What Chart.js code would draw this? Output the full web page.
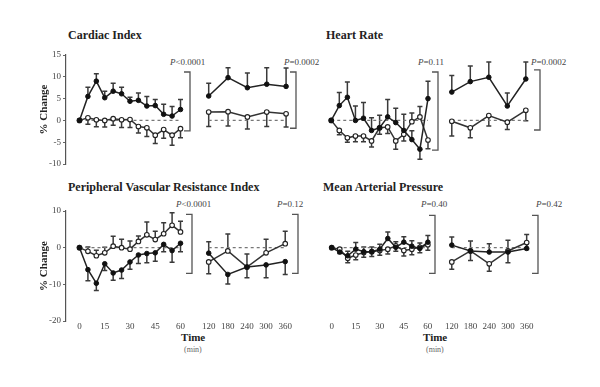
<!DOCTYPE html>
<html>
<head>
<meta charset="utf-8">
<script src="https://cdn.jsdelivr.net/npm/chart.js@4.4.0/dist/chart.umd.min.js"></script>
<style>
html,body{margin:0;padding:0;background:#fff;}
#wrap{position:relative;width:600px;height:387px;overflow:hidden;background:#fff;font-family:"Liberation Serif","Times New Roman",serif;}
#wrap canvas{position:absolute;}
.t{position:absolute;white-space:nowrap;color:#222;}
.title{font-weight:bold;font-size:12px;line-height:12px;}
.p{font-size:9px;line-height:9px;color:#444;}
.p i{font-style:italic;}
.time{font-weight:bold;font-size:11px;line-height:11px;color:#222;}
.min{font-size:8px;line-height:8px;color:#666;}
</style>
</head>
<body>
<div id="wrap">
  <div class="t title" style="left:68px;top:29px;">Cardiac Index</div>
  <div class="t title" style="left:326px;top:29px;">Heart Rate</div>
  <div class="t title" style="left:68px;top:181px;">Peripheral Vascular Resistance Index</div>
  <div class="t title" style="left:323px;top:181px;">Mean Arterial Pressure</div>

  <div class="t p" style="left:170px;top:58px;"><i>P</i>&lt;0.0001</div>
  <div class="t p" style="left:284px;top:58px;"><i>P</i>=0.0002</div>
  <div class="t p" style="left:418px;top:58px;"><i>P</i>=0.11</div>
  <div class="t p" style="left:531px;top:58px;"><i>P</i>=0.0002</div>
  <div class="t p" style="left:176px;top:200px;"><i>P</i>&lt;0.0001</div>
  <div class="t p" style="left:277px;top:200px;"><i>P</i>=0.12</div>
  <div class="t p" style="left:421px;top:200px;"><i>P</i>=0.40</div>
  <div class="t p" style="left:536px;top:200px;"><i>P</i>=0.42</div>

  <div class="t time" style="left:181px;top:332px;">Time</div>
  <div class="t min" style="left:184px;top:346px;">(min)</div>
  <div class="t time" style="left:423px;top:332px;">Time</div>
  <div class="t min" style="left:426px;top:346px;">(min)</div>
</div>
<script>
// ---------- DATA ----------
const times1 = [0, 5, 10, 15, 20, 25, 30, 35, 40, 45, 50, 55, 60];
const times2 = [120, 180, 240, 300, 360];
const xTickLabels1 = [0, 15, 30, 45, 60];
const xTickLabels2 = [120, 180, 240, 300, 360];
const yTicksTop = [-10, -5, 0, 5, 10, 15];
const yTicksBottom = [-20, -10, 0, 10];

// Cardiac Index (% change)
const ciFilled1    = [0, 5.5, 9.0, 5.2, 6.7, 6.1, 4.4, 4.6, 3.3, 3.4, 1.4, 1.0, 2.5];
const ciFilledErr1 = [0, 2.1, 1.7, 1.5, 1.8, 1.5, 0.9, 1.7, 2.2, 1.4, 2.3, 2.2, 2.3];
const ciOpen1      = [0, 0.6, 0.15, 0, 0.4, 0.15, 0.2, -1.4, -1.7, -3.4, -2.1, -3.4, -1.9];
const ciOpenErr1   = [0, -1.5, -1.6, -1.5, -1.5, -1.8, -1.8, -1.5, -2.0, -1.9, -2.0, -2.3, -2.1];
const ciFilled2    = [5.6, 9.8, 7.5, 8.3, 7.8];
const ciFilledErr2 = [2.9, 2.3, 3.4, 3.8, 4.2];
const ciOpen2      = [1.9, 2.0, 0.8, 1.9, 1.5];
const ciOpenErr2   = [-3.3, -3.3, -2.8, -3.3, -3.0];

// Heart Rate (% change)
const hrFilled1    = [0, 3.4, 5.3, 0, 0.5, -2.3, -1.7, 0.8, -0.5, -2.3, -4.4, -6.6, 5.0];
const hrFilledErr1 = [0, 3.0, 3.5, 3.3, 3.6, 2.9, 2.9, 4.0, 3.3, 3.7, 2.0, -2.3, 4.0];
const hrOpen1      = [0, -2.3, -4.0, -3.6, -3.6, -4.7, -1.7, -1.5, -4.7, -3.2, -0.3, 0.8, -4.5];
const hrOpenErr1   = [0, -1.0, -1.0, -1.3, -1.3, -1.4, -1.5, -1.5, -1.9, -1.5, 2.0, 2.4, -2.0];
const hrFilled2    = [6.5, 8.9, 9.9, 3.3, 9.5];
const hrFilledErr2 = [3.8, 3.6, 3.5, 3.0, 3.9];
const hrOpen2      = [-0.2, -1.7, 1.1, -0.4, 2.3];
const hrOpenErr2   = [-3.4, -2.3, -2.4, -1.7, -2.4];

// Peripheral Vascular Resistance Index (% change)
const pvrFilled1    = [0, -6.0, -9.7, -4.4, -6.9, -6.1, -3.9, -2.0, -1.6, -1.4, 0.9, -0.8, 1.2];
const pvrFilledErr1 = [0, -3.0, -2.0, -1.8, -2.0, -2.3, -2.0, -2.3, -2.5, -2.3, -2.0, -3.2, -2.3];
const pvrOpen1      = [0, -1.0, -2.2, -1.4, 0.4, 0, -0.4, 1.7, 3.5, 2.2, 3.8, 6.1, 4.3];
const pvrOpenErr1   = [0, 1.2, 1.5, 1.5, 2.7, 2.3, 2.2, 1.5, 3.5, 2.3, 3.0, 3.4, 2.9];
const pvrFilled2    = [-1.5, -7.3, -5.3, -4.7, -3.8];
const pvrFilledErr2 = [3.1, -2.6, -2.9, -3.5, -3.5];
const pvrOpen2      = [-3.9, -0.9, -5.3, -1.4, 1.1];
const pvrOpenErr2   = [-3.2, 4.6, 3.6, 3.7, 3.4];

// Mean Arterial Pressure (% change)
const mapFilled1    = [0, -1.2, -2.2, -0.4, -1.1, -1.1, -0.4, 2.5, 0.1, 1.5, 0.4, -0.2, 1.5];
const mapFilledErr1 = [0, 1.2, 1.2, 1.8, 1.3, 1.3, 1.3, 1.8, 1.5, 1.5, 1.5, 1.5, 1.8];
const mapOpen1      = [0, -0.4, -2.9, -2.0, -1.3, -1.1, -0.8, -0.4, 0.5, -0.8, -0.4, 0.1, 0.8];
const mapOpenErr1   = [0, -1.2, -1.2, -1.3, -1.3, -1.3, -1.3, -1.3, -1.5, -1.5, -1.5, -1.5, -1.5];
const mapFilled2    = [0.7, -0.9, -1.2, -1.2, -0.2];
const mapFilledErr2 = [2.2, 2.7, 2.3, 3.2, 3.8];
const mapOpen2      = [-3.9, -0.9, -4.4, -0.9, 1.4];
const mapOpenErr2   = [-2.0, -2.6, -2.0, -3.2, -1.9];

// ---------- RENDERING ----------
const FONT = '"Liberation Serif","Times New Roman",serif';
const wrap = document.getElementById('wrap');

const errorBarPlugin = {
  id: 'errbars',
  beforeDatasetsDraw(chart) {
    const ctx = chart.ctx, xs = chart.scales.x, ys = chart.scales.y;
    ctx.save();
    ctx.strokeStyle = '#3a3a3a';
    ctx.lineWidth = 1.5;
    chart.data.datasets.forEach(ds => {
      if (!ds.errors) return;
      ds.data.forEach((pt, j) => {
        const e = ds.errors[j];
        if (!e) return;
        const px = xs.getPixelForValue(pt.x);
        const p0 = ys.getPixelForValue(pt.y);
        const p1 = ys.getPixelForValue(pt.y + e);
        ctx.beginPath();
        ctx.moveTo(px, p0); ctx.lineTo(px, p1);
        ctx.moveTo(px - 2.5, p1); ctx.lineTo(px + 2.5, p1);
        ctx.stroke();
      });
    });
    ctx.restore();
  }
};

const bracketPlugin = {
  id: 'bracket',
  afterDraw(chart, args, opts) {
    if (opts.top === undefined) return;
    const ctx = chart.ctx, ys = chart.scales.y;
    const x = chart.chartArea.right - 1;
    const y1 = ys.getPixelForValue(opts.top), y2 = ys.getPixelForValue(opts.bottom);
    ctx.save();
    ctx.strokeStyle = '#555';
    ctx.lineWidth = 1.3;
    ctx.beginPath();
    ctx.moveTo(x - 6, y1); ctx.lineTo(x, y1); ctx.lineTo(x, y2); ctx.lineTo(x - 6, y2);
    ctx.stroke();
    ctx.restore();
  }
};

function zip(ts, vs) { return ts.map((t, i) => ({ x: t, y: vs[i] })); }

function makeChart(cfg) {
  const k = (cfg.p1 - cfg.p0) / (cfg.t1 - cfg.t0);
  const xMin = cfg.t0 + (cfg.aL - cfg.p0) / k;
  const xMax = cfg.t0 + (cfg.aR - cfg.p0) / k;
  const yW = cfg.showY ? 28 : 0;
  const padT = 8, padR = 6;
  const xH = cfg.showX ? 14 : 0;
  const padB = cfg.showX ? 2 : 8;
  const left = cfg.aL - yW;
  const width = Math.round(yW + (cfg.aR - cfg.aL) + padR);
  const top = cfg.top - padT;
  const height = Math.round(padT + (cfg.bottom - cfg.top) + xH + padB);
  const canvas = document.createElement('canvas');
  canvas.width = width; canvas.height = height;
  canvas.style.left = left + 'px'; canvas.style.top = top + 'px';
  canvas.style.width = width + 'px'; canvas.style.height = height + 'px';
  wrap.appendChild(canvas);

  const ts = cfg.times;
  const datasets = [
    { label: 'Baseline', data: [{ x: ts[0], y: 0 }, { x: ts[ts.length - 1], y: 0 }],
      borderColor: '#777', borderWidth: 1.2, borderDash: [3, 3], pointRadius: 0, order: 3 },
    { label: 'Open symbols', data: zip(ts, cfg.open), errors: cfg.openErr,
      borderColor: '#333', borderWidth: 1.5, pointRadius: 2.3, pointBackgroundColor: '#fff',
      pointBorderColor: '#222', pointBorderWidth: 1.1, tension: 0, order: 2 },
    { label: 'Filled symbols', data: zip(ts, cfg.filled), errors: cfg.filledErr,
      borderColor: '#222', borderWidth: 1.5, pointRadius: 2.3, pointBackgroundColor: '#111',
      pointBorderColor: '#111', pointBorderWidth: 1, tension: 0, order: 1 }
  ];

  new Chart(canvas, {
    type: 'line',
    data: { datasets },
    options: {
      responsive: false, animation: false, devicePixelRatio: 1,
      layout: { padding: { top: padT, bottom: padB, left: 0, right: padR } },
      plugins: {
        legend: { display: false }, tooltip: { enabled: false },
        bracket: { top: cfg.bracket[0], bottom: cfg.bracket[1] }
      },
      scales: {
        x: {
          type: 'linear', min: xMin, max: xMax, display: cfg.showX,
          grid: { display: false, drawTicks: false }, border: { display: false },
          afterBuildTicks: s => { s.ticks = cfg.xTicks.map(v => ({ value: v })); },
          afterFit: s => { s.height = xH; },
          ticks: { padding: 0, maxRotation: 0, minRotation: 0, autoSkip: false,
                   font: { family: FONT, size: 9 }, color: '#444', callback: v => String(v) }
        },
        y: {
          type: 'linear', min: cfg.yMin, max: cfg.yMax, display: cfg.showY,
          afterFit: s => { s.width = yW; },
          afterBuildTicks: s => { s.ticks = cfg.yTicks.map(v => ({ value: v })); },
          grid: { display: true, drawOnChartArea: false, drawTicks: true, tickLength: 3, color: '#666' },
          border: { display: true, color: '#555', width: 1.2 },
          ticks: { padding: 2, font: { family: FONT, size: 9 }, color: '#444', callback: v => String(v) },
          title: { display: true, text: '% Change', font: { family: FONT, size: 11, weight: 'bold' },
                   color: '#222', padding: 0 }
        }
      }
    },
    plugins: [errorBarPlugin, bracketPlugin]
  });
}

const TOP = { top: 55, bottom: 164, yMin: -10, yMax: 15, yTicks: yTicksTop, showX: false };
const BOT = { top: 211, bottom: 321, yMin: -20, yMax: 10, yTicks: yTicksBottom, showX: true };
const SEG1 = { times: times1, xTicks: xTickLabels1, t0: 0, t1: 60 };
const SEG2 = { times: times2, xTicks: xTickLabels2, t0: 120, t1: 360 };

// Cardiac Index
makeChart({ ...TOP, ...SEG1, p0: 79.5, p1: 180.5, aL: 66, aR: 191, showY: true,
  filled: ciFilled1, filledErr: ciFilledErr1, open: ciOpen1, openErr: ciOpenErr1, bracket: [11.1, -2.4] });
makeChart({ ...TOP, ...SEG2, p0: 204, p1: 285.5, aL: 196, aR: 297, showY: false,
  filled: ciFilled2, filledErr: ciFilledErr2, open: ciOpen2, openErr: ciOpenErr2, bracket: [11.1, -1.8] });
// Heart Rate
makeChart({ ...TOP, ...SEG1, p0: 326.5, p1: 427.5, aL: 318, aR: 439, showY: false,
  filled: hrFilled1, filledErr: hrFilledErr1, open: hrOpen1, openErr: hrOpenErr1, bracket: [11.1, -6.8] });
makeChart({ ...TOP, ...SEG2, p0: 447, p1: 525, aL: 441, aR: 541, showY: false,
  filled: hrFilled2, filledErr: hrFilledErr2, open: hrOpen2, openErr: hrOpenErr2, bracket: [11.6, -2.2] });
// Peripheral Vascular Resistance Index
makeChart({ ...BOT, ...SEG1, p0: 79.5, p1: 180.5, aL: 66, aR: 193, showY: true,
  filled: pvrFilled1, filledErr: pvrFilledErr1, open: pvrOpen1, openErr: pvrOpenErr1, bracket: [9.1, -7.0] });
makeChart({ ...BOT, ...SEG2, p0: 204, p1: 284.5, aL: 196, aR: 299, showY: false,
  filled: pvrFilled2, filledErr: pvrFilledErr2, open: pvrOpen2, openErr: pvrOpenErr2, bracket: [9.1, -7.0] });
// Mean Arterial Pressure
makeChart({ ...BOT, ...SEG1, p0: 327, p1: 427.5, aL: 318, aR: 436, showY: false,
  filled: mapFilled1, filledErr: mapFilledErr1, open: mapOpen1, openErr: mapOpenErr1, bracket: [8.8, -7.0] });
makeChart({ ...BOT, ...SEG2, p0: 447, p1: 526, aL: 441, aR: 539, showY: false,
  filled: mapFilled2, filledErr: mapFilledErr2, open: mapOpen2, openErr: mapOpenErr2, bracket: [8.8, -7.0] });
</script>
</body>
</html>
